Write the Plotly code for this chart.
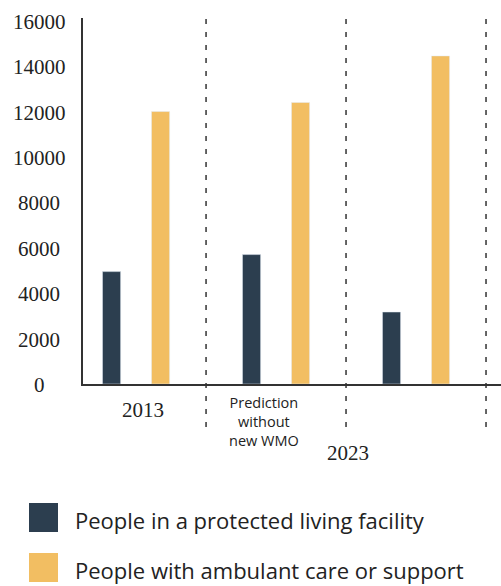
import plotly.graph_objects as go

# ---- data ----
categories = ["2013", "Prediction without new WMO", "2023"]
cat_labels = ["2013", "Prediction<br>without<br>new WMO", "2023"]
protected = [4950, 5700, 3170]
ambulant = [12000, 12400, 14450]
series_names = ["People in a protected living facility",
                "People with ambulant care or support"]
y_ticks = [0, 2000, 4000, 6000, 8000, 10000, 12000, 14000, 16000]

DARK = "#2c3e4f"
YELLOW = "#f2be62"
AXIS = "#333333"

W, H = 501, 586
ML, MR, MT, MB = 83, 0, 18, 202
PW = W - ML - MR
PH = H - MT - MB


def px_x(px):
    return (px - ML) / PW


def px_y(py):
    return (H - MB - py) / PH


fig = go.Figure()
fig.add_trace(go.Bar(x=categories, y=protected, name=series_names[0],
                     marker_color=DARK, showlegend=False))
fig.add_trace(go.Bar(x=categories, y=ambulant, name=series_names[1],
                     marker_color=YELLOW, showlegend=False))

# dashed separators between categories
for i in range(len(categories)):
    fig.add_shape(type="line", xref="x", yref="paper",
                  x0=i + 0.5, x1=i + 0.5, y0=px_y(427), y1=1.0,
                  line=dict(color=AXIS, width=1.5, dash="5px,8px"))

serif = "Liberation Serif"
sans = "Open Sans"

# y tick labels (centre-aligned like the reference), positioned on the y scale
for v in y_ticks:
    fig.add_annotation(x=px_x(39), xref="paper", xanchor="center",
                       y=v, yref="y", yanchor="middle", yshift=-1,
                       text=str(v), showarrow=False, borderpad=0,
                       font=dict(family=serif, size=21, color="#222"))

# category labels
label_specs = [
    (0, 7, 410, dict(family=serif, size=21, color="#222")),
    (1, -12, 422, dict(family=sans, size=14.5, color="#222")),
    (2, -68, 453, dict(family=serif, size=21, color="#222")),
]
for idx, xs, py, font in label_specs:
    fig.add_annotation(x=idx, xref="x", xshift=xs,
                       y=px_y(py), yref="paper", yanchor="middle",
                       text=cat_labels[idx], showarrow=False, font=font,
                       align="center")

# custom legend (large swatches)
colors = [DARK, YELLOW]
tops = [503, 553]
for name, col, top in zip(series_names, colors, tops):
    fig.add_shape(type="rect", xref="paper", yref="paper",
                  x0=px_x(29), x1=px_x(58), y0=px_y(top + 29), y1=px_y(top),
                  fillcolor=col, line=dict(width=0))
    fig.add_annotation(x=px_x(74), xref="paper", xanchor="left",
                       y=px_y(top + 17), yref="paper", yanchor="middle",
                       text=name, showarrow=False, borderpad=0,
                       font=dict(family=sans, size=22, color="#222"))

fig.update_layout(
    width=W, height=H,
    margin=dict(l=ML, r=MR, t=MT, b=MB),
    paper_bgcolor="white", plot_bgcolor="white",
    barmode="group", bargap=0.30, bargroupgap=0.63,
    showlegend=False,
)
fig.update_xaxes(type="category", range=[-0.379, 2.607],
                 showticklabels=False, ticks="", showgrid=False,
                 showline=True, linecolor=AXIS, linewidth=1.5, zeroline=False)
fig.update_yaxes(range=[0, 16120], tickvals=y_ticks,
                 showticklabels=False,
                 showgrid=False, zeroline=False, showline=True,
                 linecolor=AXIS, linewidth=1.5, ticks="")

fig.write_html("out.html")
